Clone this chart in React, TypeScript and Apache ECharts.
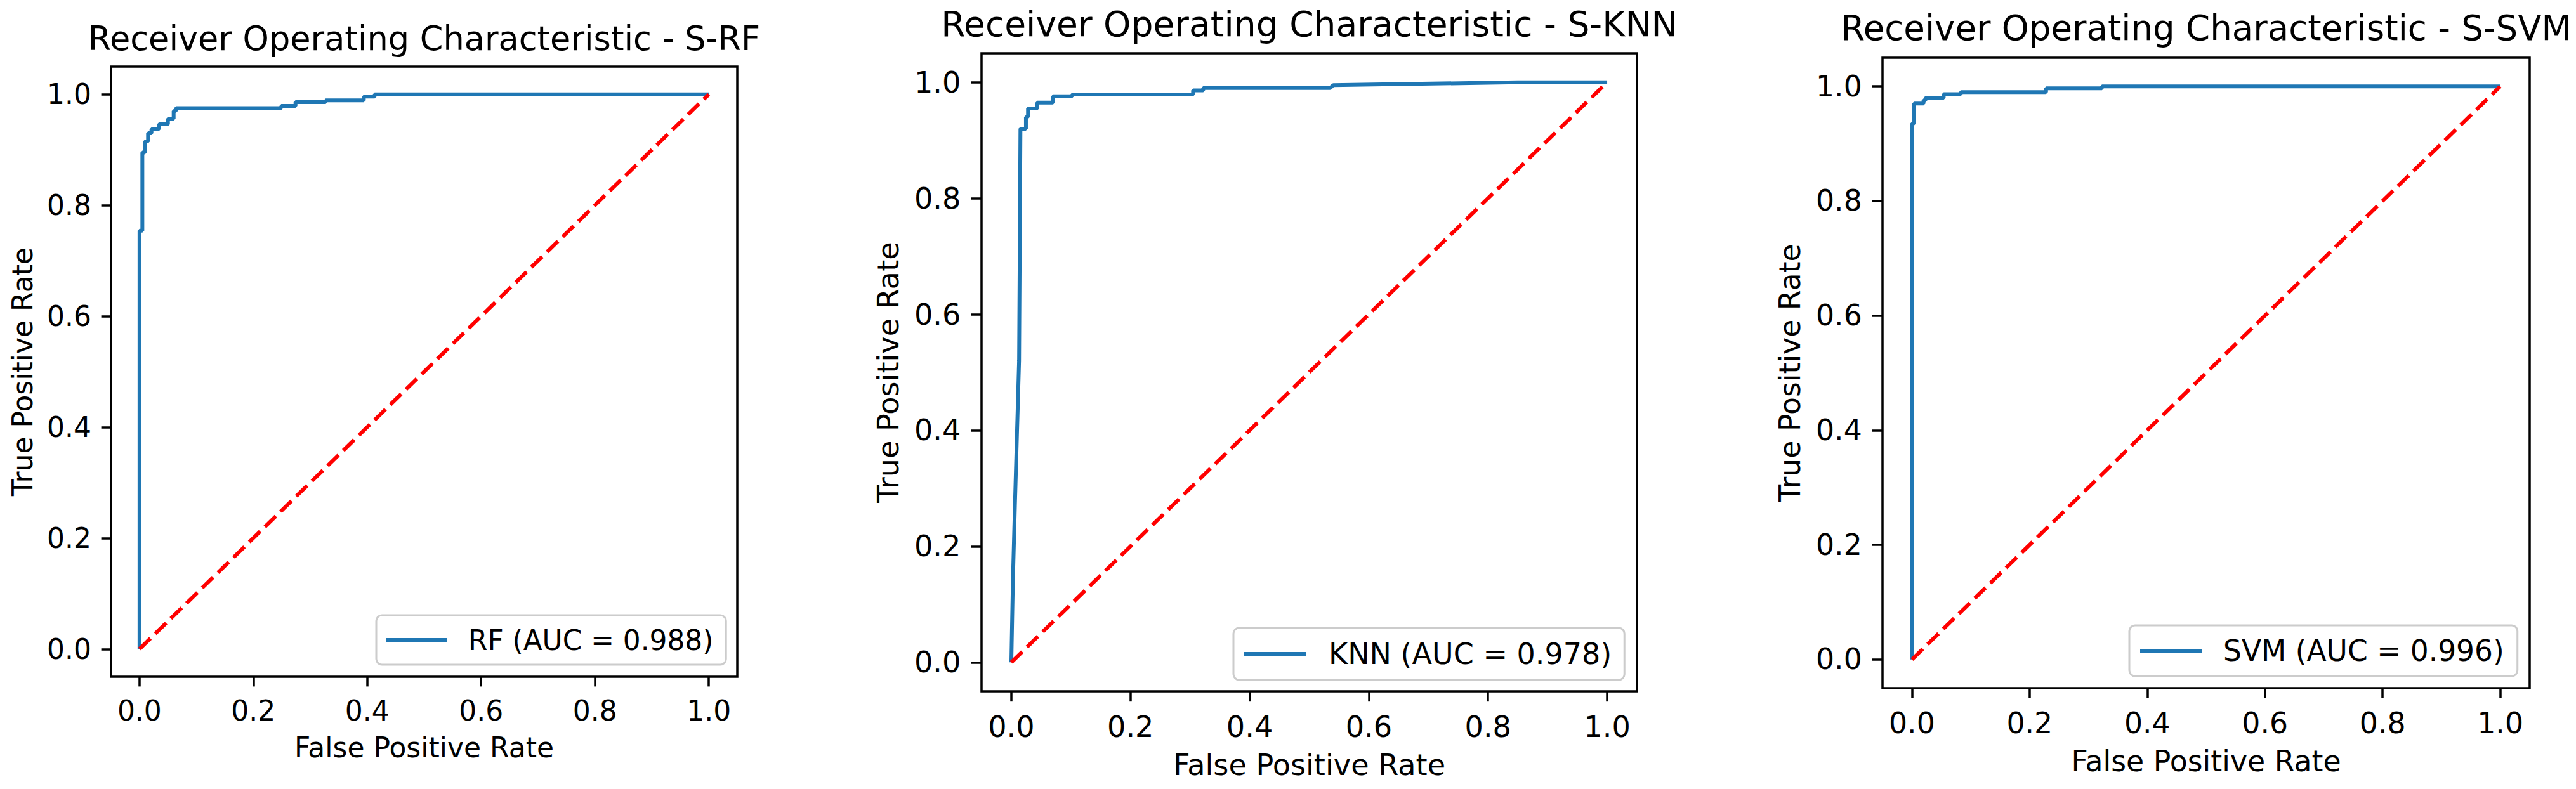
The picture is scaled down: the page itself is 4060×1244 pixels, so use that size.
import React, { useEffect, useRef } from "react";
import * as echarts from "echarts";

// ---------- data ----------
const panelTitles = [
  "Receiver Operating Characteristic - S-RF",
  "Receiver Operating Characteristic - S-KNN",
  "Receiver Operating Characteristic - S-SVM",
];
const seriesNames = ["RF (AUC = 0.988)", "KNN (AUC = 0.978)", "SVM (AUC = 0.996)"];
const xAxisTitle = "False Positive Rate";
const yAxisTitle = "True Positive Rate";
const tickValues = [0, 0.2, 0.4, 0.6, 0.8, 1.0];
const axisMin = -0.05;
const axisMax = 1.05;

const rfFpr = [0, 0, 0.005, 0.005, 0.0095, 0.0095, 0.015, 0.015, 0.021, 0.021, 0.034, 0.034, 0.05, 0.05, 0.06, 0.06, 0.064, 0.064, 0.249, 0.249, 0.274, 0.274, 0.327, 0.327, 0.394, 0.394, 0.413, 0.413, 1.0];
const rfTpr = [0, 0.754, 0.754, 0.895, 0.895, 0.915, 0.915, 0.93, 0.93, 0.937, 0.937, 0.946, 0.946, 0.956, 0.956, 0.97, 0.97, 0.975, 0.975, 0.979, 0.979, 0.986, 0.986, 0.989, 0.989, 0.996, 0.996, 1.0, 1.0];

const knnFpr = [0, 0.0026, 0.006, 0.013, 0.0153, 0.0245, 0.0245, 0.028, 0.028, 0.0436, 0.0436, 0.07, 0.07, 0.102, 0.102, 0.305, 0.305, 0.322, 0.322, 0.535, 0.54, 0.85, 1.0];
const knnTpr = [0, 0.14, 0.27, 0.52, 0.92, 0.92, 0.94, 0.94, 0.955, 0.955, 0.965, 0.965, 0.976, 0.976, 0.979, 0.979, 0.986, 0.986, 0.99, 0.99, 0.995, 1.0, 1.0];

const svmFpr = [0, 0, 0.0035, 0.0035, 0.0197, 0.0197, 0.023, 0.023, 0.054, 0.054, 0.083, 0.083, 0.228, 0.228, 0.323, 0.323, 1.0];
const svmTpr = [0, 0.935, 0.935, 0.97, 0.97, 0.9755, 0.9755, 0.98, 0.98, 0.9865, 0.9865, 0.99, 0.99, 0.9965, 0.9965, 1.0, 1.0];

const chanceFpr = [0, 1];
const chanceTpr = [0, 1];

const curveFpr = [rfFpr, knnFpr, svmFpr];
const curveTpr = [rfTpr, knnTpr, svmTpr];

// ---------- layout / style ----------
const FONT = "DejaVu Sans";
const BLUE = "#1f77b4";
const RED = "#ff0000";

const panels = [
  { left: 175, top: 105, width: 987, height: 962, k: 1.0, titleY: 60,
    legend: { left: 593, top: 970, pad: [17, 20, 17, 15], itemWidth: 96, textPad: 29, font: 43.8 } },
  { left: 1547, top: 84, width: 1033, height: 1006, k: 1.05, titleY: 38,
    legend: { left: 1944, top: 990, pad: [18, 20, 18, 17], itemWidth: 97, textPad: 31, font: 46 } },
  { left: 2967, top: 91, width: 1020, height: 994, k: 1.04, titleY: 44,
    legend: { left: 3356, top: 986, pad: [17, 21, 17, 17], itemWidth: 97, textPad: 29, font: 45.5 } },
];

const zip = (a: number[], b: number[]) => a.map((v, i) => [v, b[i]]);

export default function App() {
  const ref = useRef<HTMLDivElement>(null);

  useEffect(() => {
    if (!ref.current) return;
    const chart = echarts.init(ref.current, undefined, { renderer: "svg" });

    const option: any = {
      animation: false,
      backgroundColor: "#ffffff",
      title: panels.map((p, i) => ({
        text: panelTitles[i],
        left: p.left + p.width / 2,
        top: p.titleY,
        textAlign: "center",
        textVerticalAlign: "middle",
        padding: 0,
        textStyle: { fontSize: 52.5 * p.k, fontWeight: "normal", color: "#000", fontFamily: FONT },
      })),
      grid: panels.map((p) => ({
        left: p.left,
        top: p.top,
        width: p.width,
        height: p.height,
        show: true,
        borderColor: "#000",
        borderWidth: 3.5,
        backgroundColor: "#fff",
        containLabel: false,
        outerBoundsMode: "none",
      })),
      xAxis: panels.map((p, i) => ({
        type: "value",
        gridIndex: i,
        min: axisMin,
        max: axisMax,
        splitLine: { show: false },
        axisLine: { show: false, onZero: false },
        axisTick: { show: true, inside: false, length: 15.4 * p.k, lineStyle: { color: "#000", width: 3.5 }, customValues: tickValues },
        axisLabel: {
          customValues: tickValues,
          margin: 31 * p.k,
          fontSize: 44 * p.k,
          color: "#000",
          fontFamily: FONT,
          formatter: (v: number) => v.toFixed(1),
        },
        name: xAxisTitle,
        nameLocation: "middle",
        nameGap: 89 * p.k,
        nameTextStyle: { fontSize: 44 * p.k, color: "#000", fontFamily: FONT },
      })),
      yAxis: panels.map((p, i) => ({
        type: "value",
        gridIndex: i,
        min: axisMin,
        max: axisMax,
        splitLine: { show: false },
        axisLine: { show: false, onZero: false },
        axisTick: { show: true, inside: false, length: 15.4 * p.k, lineStyle: { color: "#000", width: 3.5 }, customValues: tickValues },
        axisLabel: {
          customValues: tickValues,
          margin: 31 * p.k,
          fontSize: 44 * p.k,
          color: "#000",
          fontFamily: FONT,
          formatter: (v: number) => v.toFixed(1),
        },
        name: yAxisTitle,
        nameLocation: "middle",
        nameRotate: 90,
        nameGap: 118 * p.k,
        nameTextStyle: { fontSize: 44 * p.k, color: "#000", fontFamily: FONT },
      })),
      legend: panels.map((p, i) => ({
        data: [seriesNames[i]],
        left: p.legend.left,
        top: p.legend.top,
        orient: "horizontal",
        padding: p.legend.pad,
        backgroundColor: "#fff",
        borderColor: "#cccccc",
        borderWidth: 3,
        borderRadius: 9,
        icon: "rect",
        itemWidth: p.legend.itemWidth,
        itemHeight: 6,
        selectedMode: false,
        textStyle: { fontSize: p.legend.font, color: "#000", fontFamily: FONT, padding: [0, 0, 0, p.legend.textPad] },
      })),
      series: [
        ...panels.map((p, i) => ({
          type: "line",
          name: seriesNames[i],
          xAxisIndex: i,
          yAxisIndex: i,
          data: zip(curveFpr[i], curveTpr[i]),
          symbol: "none",
          showSymbol: false,
          silent: true,
          lineStyle: { color: BLUE, width: 6 },
          itemStyle: { color: BLUE },
          z: 2,
        })),
        ...panels.map((p, i) => ({
          type: "line",
          name: "chance-" + i,
          xAxisIndex: i,
          yAxisIndex: i,
          data: zip(chanceFpr, chanceTpr),
          symbol: "none",
          showSymbol: false,
          silent: true,
          lineStyle: { color: RED, width: 6, type: [24, 10.5] },
          itemStyle: { color: RED },
          z: 3,
        })),
      ],
    };

    chart.setOption(option);
    return () => chart.dispose();
  }, []);

  return (
    <div
      ref={ref}
      style={{ position: "fixed", left: 0, top: 0, width: 4060, height: 1244, background: "#fff" }}
    />
  );
}
